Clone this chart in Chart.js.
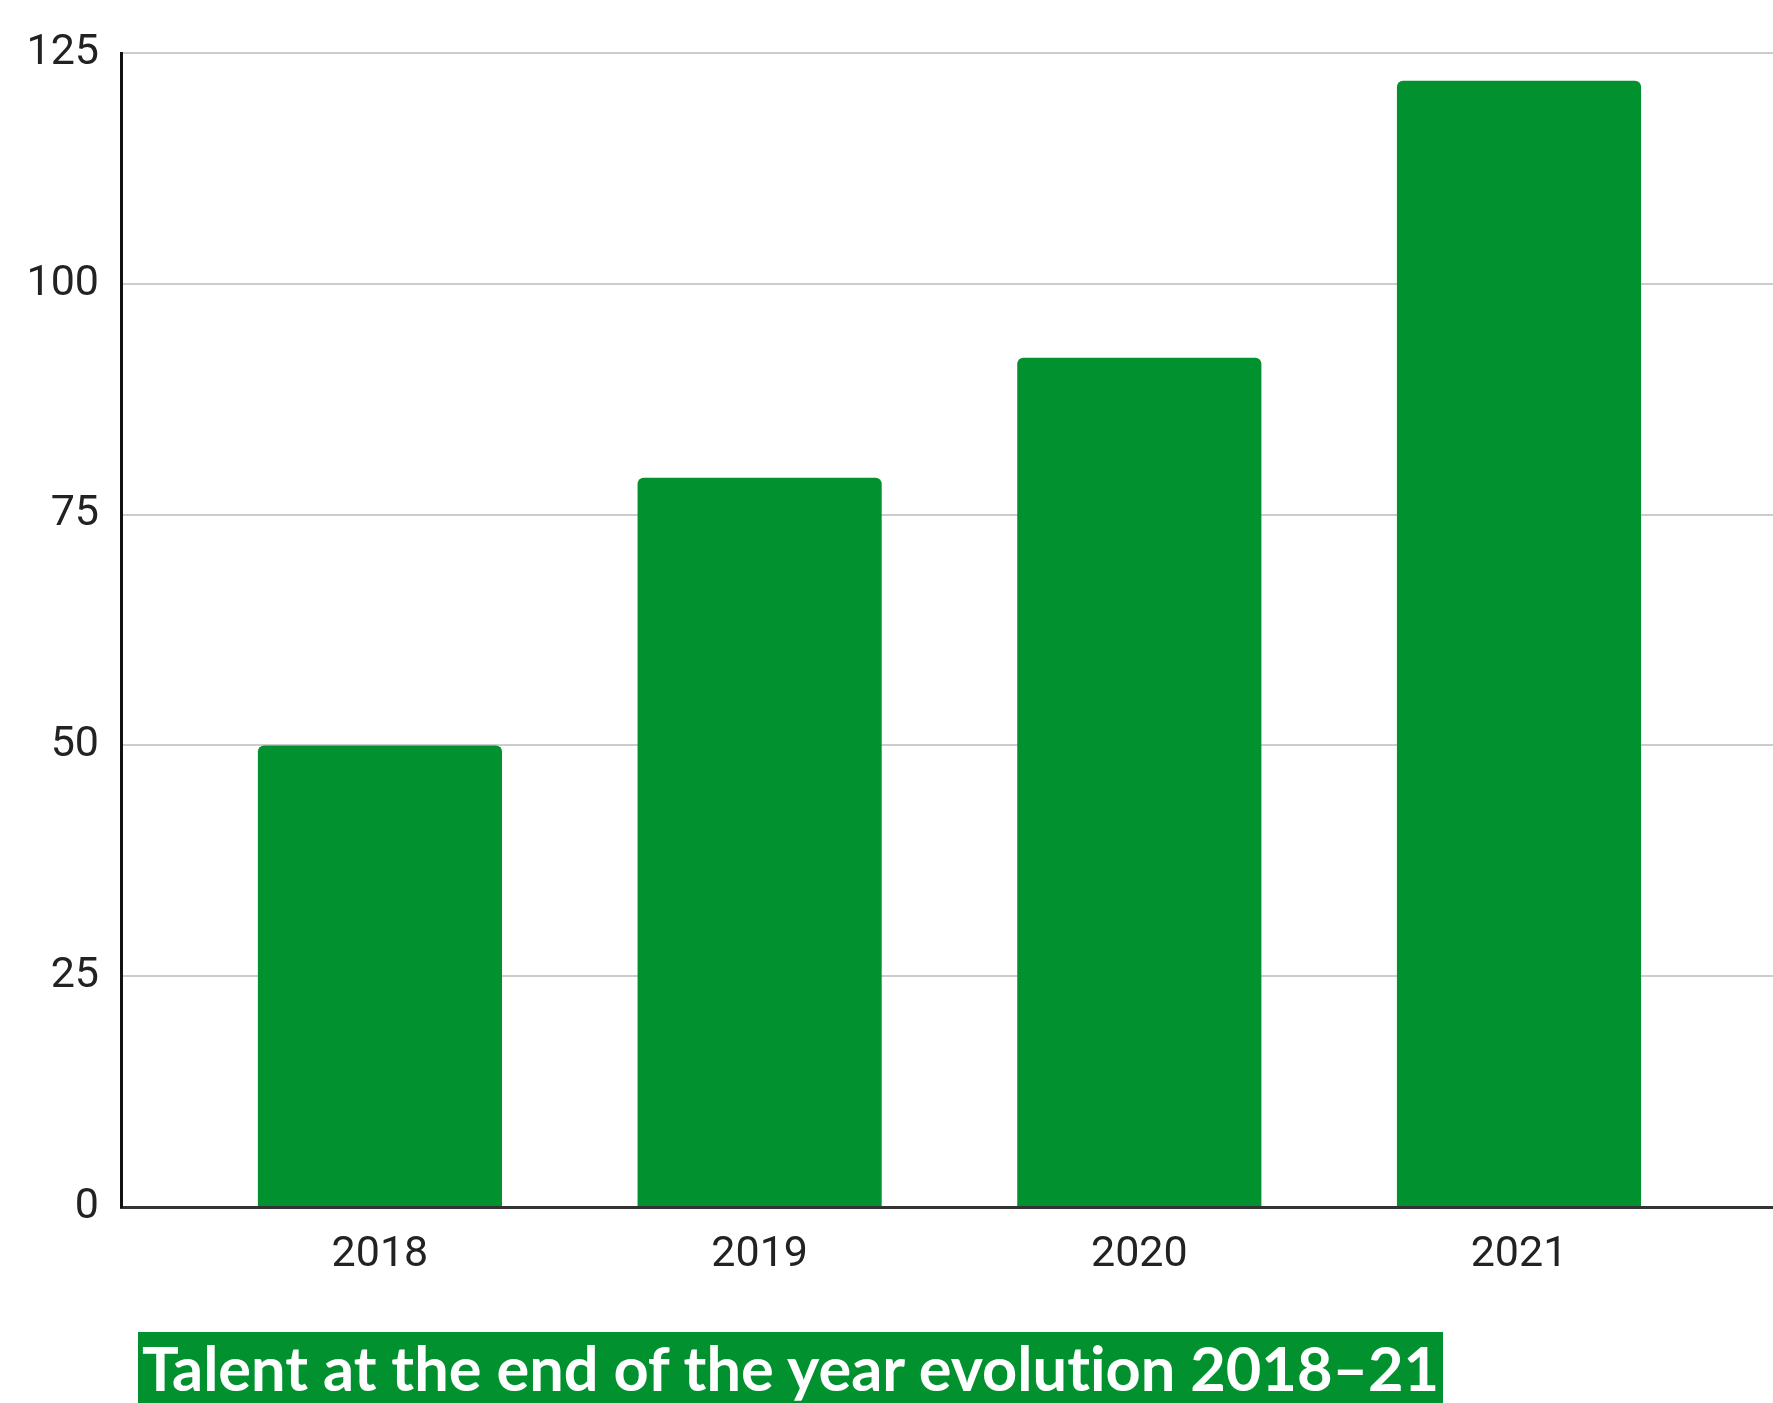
<!DOCTYPE html>
<html>
<head>
<meta charset="utf-8">
<script src="https://cdn.jsdelivr.net/npm/chart.js@4.4.0/dist/chart.umd.min.js"></script>
<style>
  html, body { margin: 0; padding: 0; background: #ffffff; }
  body { width: 1773px; height: 1403px; position: relative; overflow: hidden; }
  #wrap { position: absolute; left: 0; top: 0; width: 1773px; height: 1297px; }
  #title {
    position: absolute; left: 138px; top: 1332px; height: 71px;
    background: #01922f; color: #ffffff;
    font-family: "Lato", "Open Sans", sans-serif; font-weight: 700;
    font-variant-ligatures: none; font-feature-settings: "liga" 0, "clig" 0;
    font-size: 60px; line-height: 71px; white-space: nowrap;
    padding: 0 4px; box-sizing: border-box;
  }
</style>
</head>
<body>
<div id="wrap"><canvas id="c" width="1773" height="1297"></canvas></div>
<div id="title">Talent at the end of the year evolution 2018–21</div>
<script>
const categories = ['2018', '2019', '2020', '2021'];
const values = [50, 79, 92, 122];
const yTicks = [0, 25, 50, 75, 100, 125];

const years = categories.map(Number);
const barColor = '#01922f';

new Chart(document.getElementById('c'), {
  type: 'bar',
  data: {
    datasets: [{
      data: years.map((x, i) => ({ x: x, y: values[i] })),
      backgroundColor: barColor,
      borderWidth: 0,
      borderRadius: { topLeft: 6, topRight: 6, bottomLeft: 0, bottomRight: 0 },
      borderSkipped: false,
      barPercentage: 1,
      categoryPercentage: 0.643
    }]
  },
  options: {
    responsive: false,
    animation: false,
    layout: { padding: { top: 53, right: 0, bottom: 0, left: 0 } },
    plugins: { legend: { display: false }, tooltip: { enabled: false }, title: { display: false } },
    scales: {
      x: {
        type: 'linear',
        offset: false,
        min: years[0] - 0.682,
        max: years[years.length - 1] + 0.669,
        afterBuildTicks: (axis) => { axis.ticks = years.map(v => ({ value: v })); },
        afterFit: (axis) => { axis.height = 90; },
        grid: { display: false, drawTicks: false, offset: false },
        border: { display: true, color: '#333333', width: 3 },
        ticks: {
          padding: 22,
          color: '#222222',
          font: { family: 'Roboto', size: 43 },
          maxRotation: 0,
          autoSkip: false,
          callback: (v) => String(v)
        }
      },
      y: {
        min: yTicks[0],
        max: yTicks[yTicks.length - 1],
        afterBuildTicks: (axis) => { axis.ticks = yTicks.map(v => ({ value: v })); },
        afterFit: (axis) => { axis.width = 121; },
        grid: { color: '#cccccc', lineWidth: 2, drawTicks: false },
        border: { display: true, color: '#111111', width: 3 },
        ticks: {
          padding: 22,
          color: '#222222',
          font: { family: 'Roboto', size: 43 },
          callback: (v) => String(v)
        }
      }
    }
  }
});

// fit title text width to the reference box
(function () {
  const t = document.getElementById('title');
  const target = 1305;
  let fs = 60;
  t.style.fontSize = fs + 'px';
  const w = t.scrollWidth;
  fs = fs * (target - 8) / (w - 8);
  t.style.fontSize = fs.toFixed(2) + 'px';
  t.style.width = target + 'px';
})();
</script>
</body>
</html>
